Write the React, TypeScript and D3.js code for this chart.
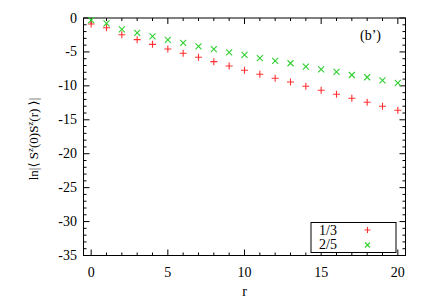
import React from "react";
import * as d3 from "d3";

// r = 0..20, ln|<Sz(0)Sz(r)>|
const R = d3.range(0, 21);
const SERIES_13 = [-0.88, -1.43, -2.46, -3.19, -3.88, -4.57, -5.2, -5.79, -6.43, -7.07, -7.7, -8.29, -8.88, -9.43, -10.06, -10.65, -11.24, -11.83, -12.42, -13.0, -13.6];
const SERIES_25 = [-0.3, -0.8, -1.67, -2.2, -2.7, -3.24, -3.68, -4.17, -4.6, -5.05, -5.45, -5.9, -6.33, -6.67, -7.17, -7.56, -7.95, -8.4, -8.73, -9.18, -9.57];
const X_TICKS = [0, 5, 10, 15, 20];
const Y_TICKS = [0, -5, -10, -15, -20, -25, -30, -35];
const LEGEND = ["1/3", "2/5"];

const W = 436, H = 305;
const m = { left: 83.5, right: 405.5, top: 18, bottom: 255.5 };
const RED = "#ff3030";
const GREEN = "#30d030";
const FONT = "Liberation Serif, Times New Roman, Tinos, DejaVu Serif, serif";

const x = d3.scaleLinear().domain([-0.5, 20.5]).range([m.left, m.right]);
const y = d3.scaleLinear().domain([-35, 0]).range([m.bottom, m.top]);

function Plus({ cx, cy, s = 3.5 }: { cx: number; cy: number; s?: number }) {
  return (
    <path d={`M${cx - s},${cy}H${cx + s}M${cx},${cy - s}V${cy + s}`} stroke={RED} strokeWidth={1.1} fill="none" />
  );
}

function Cross({ cx, cy, s = 3 }: { cx: number; cy: number; s?: number }) {
  return (
    <path d={`M${cx - s},${cy - s}L${cx + s},${cy + s}M${cx - s},${cy + s}L${cx + s},${cy - s}`} stroke={GREEN} strokeWidth={1.1} fill="none" />
  );
}

export default function App() {
  const minorX = d3.range(0, 21);
  const minorY = d3.range(-35, 1);
  const tickLen = 3, majLen = 6;
  return (
    <svg width={W} height={H} style={{ position: "absolute", left: 0, top: 0, background: "#fff", fontFamily: FONT }}>
      <rect width={W} height={H} fill="#fff" />
      {minorX.map(v => (
        <g key={"mx" + v} stroke="#000" strokeWidth={1}>
          <line x1={x(v)} x2={x(v)} y1={m.bottom} y2={m.bottom - (v % 5 === 0 ? majLen : tickLen)} />
          <line x1={x(v)} x2={x(v)} y1={m.top} y2={m.top + (v % 5 === 0 ? majLen : tickLen)} />
        </g>
      ))}
      {minorY.map(v => (
        <g key={"my" + v} stroke="#000" strokeWidth={1}>
          <line x1={m.left} x2={m.left + (v % 5 === 0 ? majLen : tickLen)} y1={y(v)} y2={y(v)} />
          <line x1={m.right} x2={m.right - (v % 5 === 0 ? majLen : tickLen)} y1={y(v)} y2={y(v)} />
        </g>
      ))}
      <rect x={m.left} y={m.top} width={m.right - m.left} height={m.bottom - m.top} fill="none" stroke="#000" strokeWidth={1} />
      {X_TICKS.map(v => (
        <text key={"xt" + v} x={x(v)} y={277} textAnchor="middle" fontSize={14}>{v}</text>
      ))}
      {Y_TICKS.map(v => (
        <text key={"yt" + v} x={77} y={y(v) + 4.5} textAnchor="end" fontSize={14}>{v}</text>
      ))}
      <text x={(m.left + m.right) / 2} y={296} textAnchor="middle" fontSize={14}>r</text>
      <text transform={`translate(38,139) rotate(-90)`} textAnchor="middle" fontSize={13}>
        ln|⟨ S<tspan dy={-5} fontSize={9}>z</tspan><tspan dy={5}>(0)S</tspan><tspan dy={-5} fontSize={9}>z</tspan><tspan dy={5}>(r) ⟩|</tspan>
      </text>
      <text x={360} y={40} fontSize={14}>(b’)</text>
      {R.map((r, i) => <Plus key={"p" + r} cx={x(r)} cy={y(SERIES_13[i])} />)}
      {R.map((r, i) => <Cross key={"c" + r} cx={x(r)} cy={y(SERIES_25[i])} />)}
      <rect x={311} y={222.5} width={85} height={30} fill="#fff" stroke="#000" strokeWidth={1} />
      <text x={319} y={235} fontSize={14}>{LEGEND[0]}</text>
      <text x={319} y={249} fontSize={14}>{LEGEND[1]}</text>
      <Plus cx={367.5} cy={230} s={3} />
      <Cross cx={367.5} cy={245} s={2.5} />
    </svg>
  );
}
